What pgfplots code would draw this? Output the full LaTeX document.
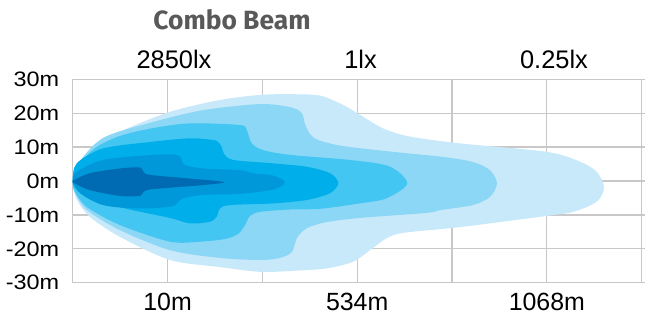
\documentclass[border=0pt]{standalone}
\usepackage{fontspec}
\setmainfont{Liberation Sans}
\newfontfamily\ytfont[FakeStretch=1.12]{Liberation Sans}
\newfontfamily\titlefont{Fira Sans}
\usepackage{pgfplots}
\pgfplotsset{compat=1.18}
\definecolor{cA}{HTML}{C8E9F9}
\definecolor{cB}{HTML}{8DD7F6}
\definecolor{cC}{HTML}{43C6F1}
\definecolor{cD}{HTML}{00AEEA}
\definecolor{cE}{HTML}{0098D8}
\definecolor{cF}{HTML}{006BB3}
\definecolor{gridc}{HTML}{C8C8C8}
\definecolor{titlec}{HTML}{595959}
\begin{document}
\begin{tikzpicture}
\begin{axis}[name=ax, scale only axis, width=572.3bp, height=203.4bp,
  xmin=0, xmax=6.035, ymin=-30, ymax=30,
  axis line style={draw=none},
  xtick={0,1,2,3,4,5,6}, xticklabels={,10m,,534m,,1068m,},
  ytick={-30,-20,-10,0,10,20,30}, yticklabels={-30m,-20m,-10m,0m,10m,20m,30m},
  grid=major, major grid style={draw=gridc, line width=1.2bp},
  major tick length=0pt, tick style={draw=none},
  xticklabel style={font=\fontsize{25}{25}\selectfont, yshift=-6.5bp},
  yticklabel style={font=\ytfont\fontsize{21}{21}\selectfont, xshift=-10bp},
  /pgf/number format/assume math mode=true,
  clip mode=individual]
\addplot[fill=cA, draw=none, smooth cycle, tension=0.5] coordinates {
(0,0) (0.006,3.2) (0.182,8.6) (0.499,14.5) (1.026,20.4) (1.553,23.9) (1.975,25.4) (2.3,25.6) (2.608,25.2) (2.854,22.4) (3.030,19.5) (3.275,15.5) (3.557,13.1) (4.084,11.1) (5.0,8.6) (5.349,5.7) (5.526,2.7) (5.603,-1.9) (5.526,-6.1) (5.279,-9.1) (5.0,-10.3) (4.084,-13.6) (3.487,-15.3) (3.311,-16.9) (3.135,-20.4) (2.959,-23.8) (2.678,-25.8) (2.326,-26.5) (1.975,-26.8) (1.553,-25.4) (1.026,-23.3) (0.499,-16.5) (0.182,-10.6) (0.045,-5.6) (0.003,-1.8)};
\addplot[fill=cB, draw=none, smooth cycle, tension=0.5] coordinates {
(0,0) (0.045,4.7) (0.320,12.7) (0.847,17.4) (1.374,20.9) (1.975,22.7) (2.292,21.8) (2.414,20.1) (2.450,16.8) (2.502,13.9) (2.587,12.1) (2.850,10.3) (3.378,8.6) (3.905,7.1) (4.221,5.6) (4.400,3.2) (4.474,-0.7) (4.400,-4.7) (4.221,-7.1) (3.873,-8.6) (3.736,-9.4) (3.030,-10.9) (2.682,-12.1) (2.471,-13.9) (2.365,-16.8) (2.313,-20.9) (2.186,-22.7) (1.975,-23.3) (1.553,-22.7) (1.026,-20.4) (0.499,-14.5) (0.151,-8.6) (0.024,-3.5)};
\addplot[fill=cC, draw=none, smooth cycle, tension=0.5] coordinates {
(0,0) (0.035,3.8) (0.235,9.7) (0.499,13.3) (0.847,15.6) (1.237,17.0) (1.764,16.5) (1.835,15.0) (1.888,11.1) (2.010,9.1) (2.292,7.7) (2.924,6.2) (3.34,4.3) (3.528,-0.7) (3.310,-5.1) (3.030,-6.6) (2.608,-8.2) (2.292,-8.4) (1.975,-9.1) (1.870,-10.3) (1.817,-13.0) (1.744,-15.6) (1.606,-17.1) (1.342,-17.9) (1.026,-17.9) (0.499,-13.0) (0.151,-7.7) (0.024,-3.2)};
\addplot[fill=cD, draw=none, smooth cycle, tension=0.5] coordinates {
(0,0) (0.042,5.2) (0.320,9.6) (0.847,11.6) (1.237,12.6) (1.479,12.1) (1.533,11.5) (1.571,10.1) (1.596,8.0) (1.694,6.2) (2.115,5.2) (2.468,4.2) (2.713,2.3) (2.801,-0.6) (2.713,-3.6) (2.468,-5.6) (2.115,-6.6) (1.659,-7.1) (1.553,-8.1) (1.519,-10.5) (1.448,-12.0) (1.237,-12.5) (1.026,-10.9) (0.499,-7.7) (0.151,-4.1) (0.024,-1.8)};
\addplot[fill=cE, draw=none, smooth cycle, tension=0.5] coordinates {
(0,0) (0.042,2.7) (0.320,6.2) (0.847,7.7) (1.097,7.7) (1.149,6.2) (1.184,4.7) (1.374,3.7) (1.764,3.2) (1.901,2.3) (2.115,1.6) (2.239,-0.4) (2.115,-2.5) (1.764,-3.8) (1.374,-4.1) (1.163,-5.1) (1.097,-6.6) (1.026,-7.6) (0.675,-8.1) (0.320,-7.1) (0.077,-3.6)};
\addplot[fill=cF, draw=none, smooth cycle, tension=0.5] coordinates {
(0,0) (0.182,2.3) (0.499,3.7) (0.710,4.0) (0.745,2.7) (0.815,1.8) (1.202,0.8) (1.596,-0.3) (1.374,-1.2) (0.847,-2.4) (0.745,-3.2) (0.710,-4.4) (0.499,-4.4) (0.182,-2.7) (0.024,-0.7)};
\node[font=\titlefont\bfseries\fontsize{26.5}{26.5}\selectfont, text=titlec] at (axis cs:1.68,47.6) {Combo Beam};
\node[anchor=base, font=\fontsize{25.5}{25.5}\selectfont, inner sep=0pt] at (axis cs:1.068,33.2) {2850lx};
\node[anchor=base, font=\fontsize{25.5}{25.5}\selectfont, inner sep=0pt] at (axis cs:3.035,33.2) {1lx};
\node[anchor=base, font=\fontsize{25.5}{25.5}\selectfont, inner sep=0pt] at (axis cs:5.075,33.2) {0.25lx};
\end{axis}
\pgfresetboundingbox
\path[use as bounding box] ([shift={(-72.7bp,-35.3bp)}]ax.south west) rectangle ([shift={(0bp,79.3bp)}]ax.north east);
\end{tikzpicture}
\end{document}
